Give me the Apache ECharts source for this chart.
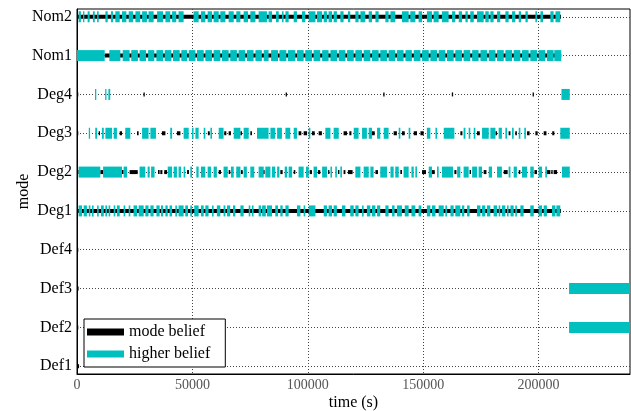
<!DOCTYPE html>
<html><head><meta charset="utf-8">
<script src="https://cdn.jsdelivr.net/npm/echarts@6/dist/echarts.min.js"></script>
<style>html,body{margin:0;padding:0;background:#fff}#c{width:631px;height:411px}</style>
</head><body><div id="c"></div><script>
const modes = ['Def1','Def2','Def3','Def4','Deg1','Deg2','Deg3','Deg4','Nom1','Nom2'];
const xMax = 239600;
const xInterval = 50000;

// intervals [start, end] in seconds
const def1Mode = [[0,900]];
const def2Mode = [[0,400]];
const def2Higher = [[213200,239600]];
const def3Mode = [[0,700]];
const def3Higher = [[213200,239600]];
const def4Mode = [[0,500]];

const deg1Mode = [[0,209700]];
const deg1Higher = [[700,2200],[2900,4300],[5100,5800],[6500,7200],[8700,9400],[10400,11600],[12300,13000],[13700,14400],[15900,16600],[17300,18500],[20200,20900],[22400,23100],[24500,26000],[26700,28900],[29600,31000],[31800,33200],[34400,35800],[36400,37300],[38300,39300],[40100,41200],[42600,43300],[44000,46200],[46900,48100],[49100,49800],[50800,52700],[53700,54900],[55600,57000],[58500,59200],[60600,62100],[63500,64300],[65000,66400],[67600,68600],[70800,72200],[74400,75100],[75800,76500],[78700,79700],[80200,81800],[82300,84500],[85900,87100],[88100,89100],[90300,91700],[95300,96800],[98200,98900],[100400,103300],[106900,108300],[109000,110500],[111200,112600],[114800,116300],[118400,119900],[120600,122000],[123500,124200],[125600,127100],[127800,129300],[130000,131400],[133600,135000],[136500,137600],[138600,140800],[142000,143700],[144900,146600],[148000,149200],[151600,153100],[153800,155300],[156700,158900],[159600,160300],[161800,163200],[163900,166100],[166800,167800],[169000,170100],[173300,174800],[175500,176900],[177600,179100],[180500,182000],[182700,183400],[184100,185600],[186300,187000],[187800,189200],[189900,190600],[192100,193500],[196400,197900],[200000,201500],[202200,203600],[205800,207300],[207700,209400]];

const deg2Mode = [[0,700],[10100,11300],[19500,20200],[22800,26300],[35100,35800],[36100,37000],[37800,39000],[47700,48500],[61400,62400],[65700,66400],[71000,71800],[80200,81300],[88100,89100],[93900,94600],[100800,101800],[104400,105400],[108800,109300],[113100,113700],[115500,116300],[117400,119400],[129300,130400],[140100,140800],[149500,151200],[153800,155000],[163500,164400],[170100,170700],[176200,177400],[184900,186600],[191400,192100],[198200,199300],[203600,205100],[205500,206100],[206500,208000]];
const deg2Higher = [[700,10100],[11300,19500],[20200,21700],[27100,29600],[30600,31500],[32100,33600],[39300,41200],[41900,43300],[44000,45100],[46200,46900],[49100,49800],[51700,52700],[53700,55600],[56600,58100],[59200,60600],[63500,65300],[66700,67900],[69000,70800],[72200,73600],[75100,76800],[78700,80900],[81600,83800],[84500,85900],[86700,87700],[90000,91000],[91700,93200],[96000,98200],[99200,100400],[102500,104000],[106200,108300],[109800,110500],[111900,112600],[114100,114800],[120600,122800],[124200,126400],[127100,128500],[131400,134300],[135800,137200],[137900,139400],[141500,143700],[144900,145900],[146600,147300],[152400,153800],[156000,156700],[158100,162900],[164700,166100],[167500,169700],[171200,173300],[174000,175500],[178400,179800],[182000,184100],[187000,187800],[189200,190600],[192800,195000],[196400,197900],[200000,201500],[202900,203600],[210100,213500]];

const deg3Mode = [[0,200],[9400,9700],[18500,19500],[26000,26700],[36800,38300],[43300,44800],[46900,47700],[56700,57500],[63800,64700],[65700,66700],[70800,71500],[75100,75800],[96000,97200],[98200,99700],[101800,103000],[104700,106100],[115500,117000],[118000,118900],[127800,129000],[137200,138600],[140800,142000],[145900,147300],[148800,150200],[166100,167000],[173300,174500],[181300,182000],[187000,187800],[189900,190600],[195000,196100],[198600,199600],[202200,203400],[205900,206800]];
const deg3Higher = [[5100,5500],[7900,8700],[10800,11600],[12300,15200],[15900,17300],[20900,23100],[28200,31000],[31800,34200],[40400,41200],[46200,48400],[49800,50500],[51300,52700],[54900,55600],[57800,58500],[61400,63500],[67900,70800],[72200,74400],[78000,83000],[83800,85900],[86700,88800],[90300,92400],[93900,95300],[100400,101100],[107600,109800],[111200,113400],[119900,122000],[123500,125600],[126400,127800],[130000,131400],[132900,135000],[139400,140100],[143700,144400],[151600,153100],[155300,156000],[158900,163500],[167500,168300],[169700,170400],[171900,172600],[175500,178400],[179100,181300],[182700,184100],[185600,186300],[188500,189200],[191400,192100],[193800,194500],[209400,213500]];

const deg4Mode = [[0,300],[28800,29100],[90400,90700],[132700,133100],[162400,162700],[197400,197800]];
const deg4Higher = [[7800,8200],[12200,12500],[13600,14400],[209900,213500]];

const nom1Mode = [[12000,209800]];
const nom1Higher = [[0,12000],[14000,18800],[19800,22800],[23500,26400],[27100,29900],[30800,33500],[34400,37300],[38000,40900],[41600,44500],[45200,47700],[48400,51300],[52000,54900],[55600,58500],[59200,62100],[62800,65700],[66400,69300],[70000,72900],[73600,76500],[77300,80100],[80900,83000],[84100,87100],[87700,90700],[91400,94600],[95300,98200],[98900,101800],[102500,105400],[106200,109000],[109800,112700],[113400,116300],[117000,119900],[120600,123500],[124200,127100],[127800,130700],[131400,134300],[135000,137900],[138600,141500],[142300,145100],[145900,148800],[149500,152400],[153100,156000],[156700,159600],[160300,163200],[163900,166800],[167500,170400],[171200,174000],[174800,177700],[178400,181300],[182000,184900],[185600,188500],[189200,192100],[192800,195700],[196400,199300],[200000,202900],[203600,206500],[206800,209800]];

const nom2Mode = [[0,209700]];
const nom2Higher = [[700,1700],[2600,3200],[4600,5500],[6900,7700],[8700,9400],[12300,13300],[14700,15600],[16600,18500],[19500,21400],[22400,24300],[25300,27400],[28200,30300],[31000,33200],[34700,37300],[38300,40400],[41200,43000],[44000,46200],[50500,52700],[53700,55600],[56600,58500],[59200,61400],[62100,64300],[65700,67900],[69000,70800],[72200,74100],[75100,77300],[78700,82300],[83000,84500],[86200,87400],[88800,89500],[90300,91700],[93900,95300],[97500,98900],[100400,103300],[104000,106200],[106900,108300],[109000,110500],[111200,112600],[114100,115500],[117400,118400],[120600,122000],[122800,124900],[126400,127800],[129300,130700],[133600,135000],[135800,137900],[140800,143700],[144400,146600],[148000,149500],[151600,153800],[154500,156700],[158100,161000],[162500,163900],[165400,166800],[168300,169300],[170400,171900],[173300,176200],[176900,178400],[179100,180500],[182000,183400],[185600,187000],[188500,189900],[191400,192400],[194300,195300],[198600,199300],[200800,201900],[205100,206500],[207300,209400]];

const modeRows = [def1Mode, def2Mode, def3Mode, def4Mode, deg1Mode, deg2Mode, deg3Mode, deg4Mode, nom1Mode, nom2Mode];
const higherRows = [[], def2Higher, def3Higher, [], deg1Higher, deg2Higher, deg3Higher, deg4Higher, nom1Higher, nom2Higher];

function toData(rows){
  const out = [];
  rows.forEach((iv, i) => iv.forEach(p => out.push([p[0], p[1], i + 1])));
  return out;
}

function rectRender(h){
  return function(params, api){
    const y = api.value(2);
    const a = api.coord([api.value(0), y]);
    const b = api.coord([api.value(1), y]);
    const w = Math.max(b[0] - a[0], 1.3);
    const cs = params.coordSys;
    const shape = echarts.graphic.clipRectByRect(
      {x: a[0], y: a[1] - h / 2, width: w, height: h},
      {x: cs.x, y: cs.y - 10, width: cs.width, height: cs.height + 20});
    return shape && {type: 'rect', shape: shape, style: api.style()};
  };
}

const FONT = 'Liberation Serif';
const chart = echarts.init(document.getElementById('c'), null, {renderer: 'canvas'});
chart.setOption({
  animation: false,
  backgroundColor: '#fff',
  grid: {left: 77, right: 1, top: 9, bottom: 37, show: true, borderColor: '#000', borderWidth: 1,
         containLabel: false, outerBoundsMode: 'none'},
  legend: {
    orient: 'vertical', left: 84, top: 319,
    backgroundColor: '#fff', borderColor: '#000', borderWidth: 1,
    padding: [5, 15, 5, 3], itemGap: 6, itemWidth: 37, itemHeight: 7,
    textStyle: {fontFamily: FONT, fontSize: 16, color: '#000'},
    data: [{name: 'mode belief', icon: 'rect'}, {name: 'higher belief', icon: 'rect'}]
  },
  xAxis: {
    type: 'value', min: 0, max: xMax, interval: xInterval,
    name: 'time (s)', nameLocation: 'middle', nameGap: 21, nameMoveOverlap: false,
    nameTextStyle: {fontFamily: FONT, fontSize: 16, color: '#000'},
    axisLine: {lineStyle: {color: '#000', width: 1}},
    axisTick: {show: false},
    axisLabel: {fontFamily: FONT, fontSize: 14, color: '#555', margin: 4, showMaxLabel: false,
      formatter: v => String(v)},
    splitLine: {show: true, showMinLine: false, showMaxLine: false, lineStyle: {color: '#444', type: [1, 2], width: 1}}
  },
  yAxis: {
    type: 'value', min: 0.8, max: 10.2, splitNumber: 10, minInterval: 1, maxInterval: 1,
    name: 'mode', nameLocation: 'middle', nameGap: 45, nameMoveOverlap: false,
    nameTextStyle: {fontFamily: FONT, fontSize: 16, color: '#000'},
    axisLine: {show: true, lineStyle: {color: '#000', width: 1}},
    axisTick: {show: false},
    axisLabel: {fontFamily: FONT, fontSize: 16, color: '#000', margin: 5, showMinLabel: false, showMaxLabel: false,
      formatter: v => (Math.abs(v - Math.round(v)) < 1e-6 && v >= 1 && v <= 10) ? modes[Math.round(v) - 1] : ''},
    splitLine: {show: true, showMinLine: false, showMaxLine: false, lineStyle: {color: '#444', type: [1, 2], width: 1}}
  },
  series: [
    {name: 'mode belief', type: 'custom', renderItem: rectRender(4), data: toData(modeRows),
     encode: {x: [0, 1], y: 2}, itemStyle: {color: '#000'}, z: 2, silent: true},
    {name: 'higher belief', type: 'custom', renderItem: rectRender(11), data: toData(higherRows),
     encode: {x: [0, 1], y: 2}, itemStyle: {color: '#00bfbf'}, z: 3, silent: true}
  ]
});
</script></body></html>
